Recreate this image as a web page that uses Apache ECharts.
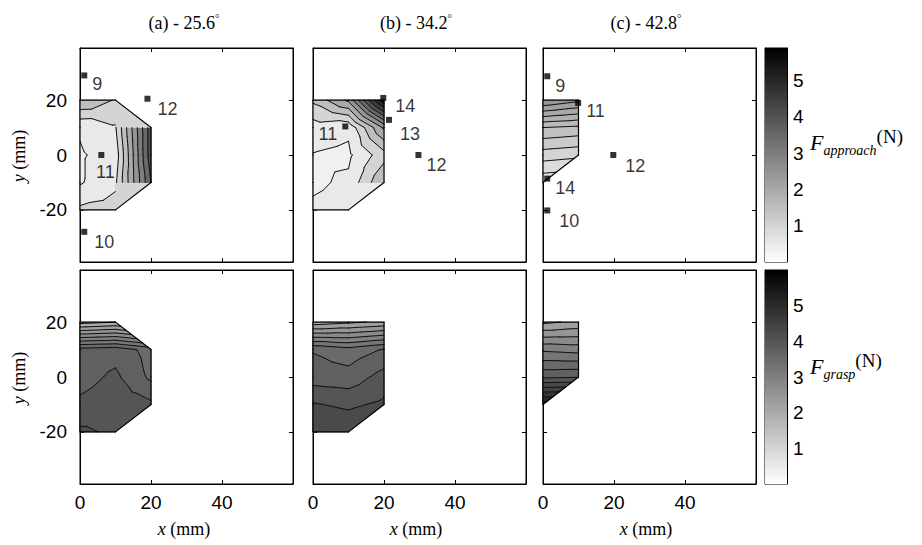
<!DOCTYPE html>
<html>
<head>
<meta charset="utf-8">
<script src="https://cdn.jsdelivr.net/npm/echarts@6/dist/echarts.min.js"></script>
<style>
html, body { margin: 0; padding: 0; background: #fff; }
#main { width: 922px; height: 545px; }
</style>
</head>
<body>
<div id="main"></div>
<script>
// measuring grid (mm)
var xNodes = [0, 10, 20];
var yNodes = [-20, -10, 0, 10, 20];

// force maps: one row per yNodes entry (bottom to top), one column per xNodes entry, null = no reading
var approach256 = [
    [1.1, 1.2, null],
    [0.45, 0.9, 4.0],
    [0.45, 0.7, 4.3],
    [0.55, 0.95, 4.3],
    [2.0, 1.45, null]
];
var approach342 = [
    [0.6, 0.7, null],
    [0.4, 0.6, 2.0],
    [0.48, 0.4, 1.3],
    [0.75, 0.6, 2.6],
    [1.6, 2.6, 5.9]
];
var approach428 = [
    [null, null, null],
    [0.65, null, null],
    [1.1, 1.05, null],
    [1.6, 1.55, null],
    [2.6, 2.45, null]
];
var grasp256 = [
    [4.3, 4.2, null],
    [4.05, 4.15, 4.05],
    [3.9, 4.05, 3.7],
    [3.85, 3.9, 3.65],
    [1.9, 2.0, null]
];
var grasp342 = [
    [4.5, 4.45, null],
    [4.27, 4.2, 4.3],
    [3.88, 3.85, 4.1],
    [3.73, 3.6, 3.77],
    [2.1, 2.2, 2.3]
];
var grasp428 = [
    [null, null, null],
    [5.4, null, null],
    [3.95, 3.98, null],
    [3.2, 3.15, null],
    [2.2, 2.3, null]
];

// contour levels (N)
var levelsCoarse = [0.5, 1, 1.5, 2, 2.5, 3, 3.5, 4, 4.5, 5, 5.5];
var levelsApproachC = [0.6, 0.8, 1.0, 1.2, 1.4, 1.6, 1.8, 2.0, 2.2, 2.4, 2.6];
var levelsGrasp = [1.75, 2, 2.25, 2.5, 2.75, 3, 3.25, 3.5, 3.75, 4, 4.25, 4.5, 4.75, 5, 5.25];

// fingertip positions [x, y, finger]
var fingersA = [[1.2, 29, '9'], [19, 20.5, '12'], [6, 0, '11'], [1.2, -28, '10']];
var fingersB = [[19.8, 20.8, '14'], [21.4, 12.8, '13'], [9.1, 10.4, '11'], [29.7, 0, '12']];
var fingersC = [[1.2, 28.7, '9'], [9.9, 19, '11'], [19.8, 0, '12'], [1.2, -8.6, '14'], [1.2, -20.2, '10']];

var panelTitles = ['(a) - 25.6', '(b) - 34.2', '(c) - 42.8'];
var xTicks = [0, 20, 40];
var yTicks = [-20, 0, 20];
var barTicks = [1, 2, 3, 4, 5];
var barMax = [5.9, 6.0];

// label placement for the finger numbers (style only)
var labelPosA = [['right', [0, 9]], ['right', [2, 10]], ['bottom', [4, 0]], ['right', [2, 10]]];
var labelPosB = [['right', [4, 8]], ['right', [3, 14]], ['left', [0, 8]], ['right', [0, 10]]];
var labelPosC = [['right', [0, 10]], ['right', [0, 8]], ['right', [4, 11]], ['right', [0, 9]], ['right', [4, 11]]];

var panels = [
    {z: approach256, levels: levelsCoarse, cmax: barMax[0], flatPartial: true, fingers: fingersA, pos: labelPosA},
    {z: approach342, levels: levelsCoarse, cmax: barMax[0], flatPartial: true, fingers: fingersB, pos: labelPosB},
    {z: approach428, levels: levelsApproachC, cmax: barMax[0], flatPartial: false, fingers: fingersC, pos: labelPosC},
    {z: grasp256, levels: levelsGrasp, cmax: barMax[1], flatPartial: false},
    {z: grasp342, levels: levelsGrasp, cmax: barMax[1], flatPartial: false},
    {z: grasp428, levels: levelsGrasp, cmax: barMax[1], flatPartial: false}
];

var colLeft = [80, 313, 543];
var rowTop = [48, 270];
var tickFont = "'Liberation Sans Narrow','Liberation Sans',Arial,sans-serif";
var serif = "'Liberation Serif','Times New Roman',serif";

function gray(v, cmax) {
    var t = Math.max(0, Math.min(1, v / cmax));
    var g = Math.round(255 * (1 - t));
    return 'rgb(' + g + ',' + g + ',' + g + ')';
}

function bandOf(v, levels) {
    var k = 0;
    while (k < levels.length && v >= levels[k]) k++;
    return k;
}

function bandValue(k, levels) {
    if (k === 0) return levels[0] - 0.3 * (levels[1] - levels[0]);
    return levels[k - 1];
}

function buildCells(z) {
    var tris = [], edges = [];
    for (var j = 0; j < yNodes.length - 1; j++) {
        for (var i = 0; i < xNodes.length - 1; i++) {
            var c = [
                {x: xNodes[i], y: yNodes[j], v: z[j][i]},
                {x: xNodes[i + 1], y: yNodes[j], v: z[j][i + 1]},
                {x: xNodes[i + 1], y: yNodes[j + 1], v: z[j + 1][i + 1]},
                {x: xNodes[i], y: yNodes[j + 1], v: z[j + 1][i]}
            ];
            var ok = c.filter(function (p) { return p.v !== null; });
            if (ok.length === 4) {
                var mid = {x: (c[0].x + c[1].x) / 2, y: (c[0].y + c[3].y) / 2,
                    v: (c[0].v + c[1].v + c[2].v + c[3].v) / 4};
                for (var k = 0; k < 4; k++) {
                    tris.push({pts: [c[k], c[(k + 1) % 4], mid], partial: false});
                    edges.push([c[k], c[(k + 1) % 4]]);
                }
            } else if (ok.length === 3) {
                tris.push({pts: ok, partial: true});
                for (var m = 0; m < 3; m++) edges.push([ok[m], ok[(m + 1) % 3]]);
            }
        }
    }
    // outline = edges used only once
    var count = {};
    function key(e) {
        var a = e[0].x + ',' + e[0].y, b = e[1].x + ',' + e[1].y;
        return a < b ? a + '|' + b : b + '|' + a;
    }
    edges.forEach(function (e) { count[key(e)] = (count[key(e)] || 0) + 1; });
    var outline = edges.filter(function (e) { return count[key(e)] === 1; });
    return {tris: tris, outline: outline};
}

function clipPoly(poly, level, above) {
    var out = [];
    for (var i = 0; i < poly.length; i++) {
        var a = poly[i], b = poly[(i + 1) % poly.length];
        var ina = above ? a.v >= level : a.v < level;
        var inb = above ? b.v >= level : b.v < level;
        if (ina) out.push(a);
        if (ina !== inb) {
            var t = (level - a.v) / (b.v - a.v);
            out.push({x: a.x + t * (b.x - a.x), y: a.y + t * (b.y - a.y), v: level});
        }
    }
    return out;
}

function isoSegment(pts, level) {
    var hits = [];
    for (var i = 0; i < 3; i++) {
        var a = pts[i], b = pts[(i + 1) % 3];
        if ((a.v >= level) !== (b.v >= level)) {
            var t = (level - a.v) / (b.v - a.v);
            hits.push([a.x + t * (b.x - a.x), a.y + t * (b.y - a.y)]);
        }
    }
    return hits.length === 2 ? hits : null;
}

function contourRenderer(panel) {
    var cells = buildCells(panel.z);
    var levels = panel.levels;
    return function (params, api) {
        var children = [];
        function toPx(p) { return api.coord([p.x, p.y]); }
        function addPoly(pts, color) {
            children.push({type: 'polygon', shape: {points: pts.map(toPx)},
                style: {fill: color, stroke: color, lineWidth: 1, lineJoin: 'round'}});
        }
        cells.tris.forEach(function (t) {
            if (t.partial && panel.flatPartial) {
                var vs = t.pts.map(function (p) { return p.v; }).sort(function (a, b) { return a - b; });
                addPoly(t.pts, gray(bandValue(bandOf(vs[1], levels), levels), panel.cmax));
                return;
            }
            for (var k = 0; k <= levels.length; k++) {
                var poly = t.pts;
                if (k > 0) poly = clipPoly(poly, levels[k - 1], true);
                if (k < levels.length && poly.length) poly = clipPoly(poly, levels[k], false);
                if (poly.length >= 3) addPoly(poly, gray(bandValue(k, levels), panel.cmax));
            }
        });
        cells.tris.forEach(function (t) {
            if (t.partial && panel.flatPartial) return;
            levels.forEach(function (L) {
                var s = isoSegment(t.pts, L);
                if (!s) return;
                var p1 = api.coord(s[0]), p2 = api.coord(s[1]);
                children.push({type: 'line', shape: {x1: p1[0], y1: p1[1], x2: p2[0], y2: p2[1]},
                    style: {stroke: '#111', lineWidth: 1, lineCap: 'round'}});
            });
        });
        cells.outline.forEach(function (e) {
            var p1 = toPx(e[0]), p2 = toPx(e[1]);
            children.push({type: 'line', shape: {x1: p1[0], y1: p1[1], x2: p2[0], y2: p2[1]},
                style: {stroke: '#000', lineWidth: 1.2, lineCap: 'round'}});
        });
        return {type: 'group', children: children};
    };
}

var option = {
    animation: false,
    backgroundColor: '#fff',
    grid: [], xAxis: [], yAxis: [], series: [], graphic: []
};

function tickAxis(base) {
    var ax = {
        type: 'value',
        axisLine: {show: true, onZero: false, lineStyle: {color: '#000', width: 1}},
        axisTick: {show: true, inside: true, length: 4, lineStyle: {color: '#000'}},
        axisLabel: {show: false},
        splitLine: {show: false}
    };
    for (var k in base) ax[k] = base[k];
    return ax;
}

panels.forEach(function (panel, p) {
    var row = p < 3 ? 0 : 1, col = p % 3;
    option.grid.push({left: colLeft[col], top: rowTop[row], width: 213, height: 214,
        show: true, borderColor: '#000', borderWidth: 1, outerBoundsMode: 'none'});
    var xb = tickAxis({gridIndex: p, min: 0, max: 60, position: 'bottom'});
    xb.axisTick.customValues = xTicks;
    xb.axisLabel = {show: row === 1, customValues: xTicks, margin: 9, color: '#000',
        fontFamily: tickFont, fontSize: 19};
    var xt = tickAxis({gridIndex: p, min: 0, max: 60, position: 'top'});
    xt.axisTick.customValues = xTicks;
    var yl = tickAxis({gridIndex: p, min: -39, max: 39, position: 'left'});
    yl.axisTick.customValues = yTicks;
    yl.axisLabel = {show: col === 0, customValues: yTicks, margin: 13, color: '#000',
        fontFamily: tickFont, fontSize: 19};
    var yr = tickAxis({gridIndex: p, min: -39, max: 39, position: 'right'});
    yr.axisTick.customValues = yTicks;
    option.xAxis.push(xb, xt);
    option.yAxis.push(yl, yr);

    option.series.push({
        type: 'custom',
        xAxisIndex: 2 * p, yAxisIndex: 2 * p,
        silent: true, z: 2,
        data: [[0, 0]],
        renderItem: contourRenderer(panel)
    });

    if (panel.fingers) {
        option.series.push({
            type: 'scatter',
            xAxisIndex: 2 * p, yAxisIndex: 2 * p,
            symbol: 'rect', symbolSize: 6, z: 5,
            itemStyle: {color: '#000'},
            label: {show: true, color: '#000', fontFamily: "'Liberation Sans',Arial,sans-serif", fontSize: 18,
                formatter: function (d) { return d.data.name; }},
            data: panel.fingers.map(function (f, i) {
                return {value: [f[0], f[1]], name: f[2],
                    label: {position: panel.pos[i][0], offset: panel.pos[i][1]}};
            })
        });
    }
});

// colour bars
barMax.forEach(function (cmax, r) {
    var g = 6 + r;
    option.grid.push({left: 765, top: rowTop[r], width: 22, height: 214,
        show: true, borderColor: '#000', borderWidth: 1, outerBoundsMode: 'none'});
    option.xAxis.push({gridIndex: g, type: 'value', min: 0, max: 1, show: false});
    var right = tickAxis({gridIndex: g, min: 0, max: cmax, position: 'right'});
    right.axisTick.customValues = barTicks;
    right.axisLabel = {show: true, customValues: barTicks, margin: 6, color: '#000',
        fontFamily: tickFont, fontSize: 19};
    var left = tickAxis({gridIndex: g, min: 0, max: cmax, position: 'left'});
    left.axisTick.customValues = barTicks;
    option.yAxis.push(right, left);
    var xi = option.xAxis.length - 1, yi = option.yAxis.length - 2;
    option.series.push({
        type: 'custom',
        xAxisIndex: xi, yAxisIndex: yi, silent: true, z: 2,
        data: [[0, 0]],
        renderItem: function (params, api) {
            var p0 = api.coord([0, 0]), p1 = api.coord([1, cmax]);
            return {type: 'rect',
                shape: {x: p0[0], y: p1[1], width: p1[0] - p0[0], height: p0[1] - p1[1]},
                style: {fill: new echarts.graphic.LinearGradient(0, 0, 0, 1,
                    [{offset: 0, color: '#000'}, {offset: 1, color: '#fff'}])}};
        }
    });
});

// titles and axis names
var titleX = [184, 416, 646];
panelTitles.forEach(function (t, i) {
    option.graphic.push({type: 'text', x: titleX[i], y: 23, style: {
        text: '{t|' + t + '}{d|°}', align: 'center', verticalAlign: 'middle',
        rich: {t: {fontFamily: serif, fontSize: 18, lineHeight: 22, verticalAlign: 'middle'},
               d: {fontFamily: serif, fontSize: 11, lineHeight: 11, verticalAlign: 'top'}}}});
    option.graphic.push({type: 'text', x: titleX[i], y: 529, style: {
        text: '{i|x} (mm)', align: 'center', verticalAlign: 'middle',
        font: '18px ' + serif,
        rich: {i: {fontFamily: serif, fontSize: 18, fontStyle: 'italic'}}}});
});
[156, 378].forEach(function (cy) {
    option.graphic.push({type: 'text', x: 19, y: cy, rotation: Math.PI / 2, style: {
        text: '{i|y} (mm)', align: 'center', verticalAlign: 'middle',
        font: '18px ' + serif,
        rich: {i: {fontFamily: serif, fontSize: 18, fontStyle: 'italic'}}}});
});
[['approach', 142], ['grasp', 366]].forEach(function (b) {
    option.graphic.push({type: 'text', x: 810, y: b[1], style: {
        text: '{f|F}{s|' + b[0] + '}{n|(N)}', align: 'left', verticalAlign: 'middle',
        rich: {f: {fontFamily: serif, fontStyle: 'italic', fontSize: 22, lineHeight: 30, verticalAlign: 'middle'},
               s: {fontFamily: serif, fontStyle: 'italic', fontSize: 14, lineHeight: 14, verticalAlign: 'bottom'},
               n: {fontFamily: serif, fontSize: 19, lineHeight: 20, verticalAlign: 'top'}}}});
});

var chart = echarts.init(document.getElementById('main'), null, {renderer: 'svg'});
chart.setOption(option);
</script>
</body>
</html>
